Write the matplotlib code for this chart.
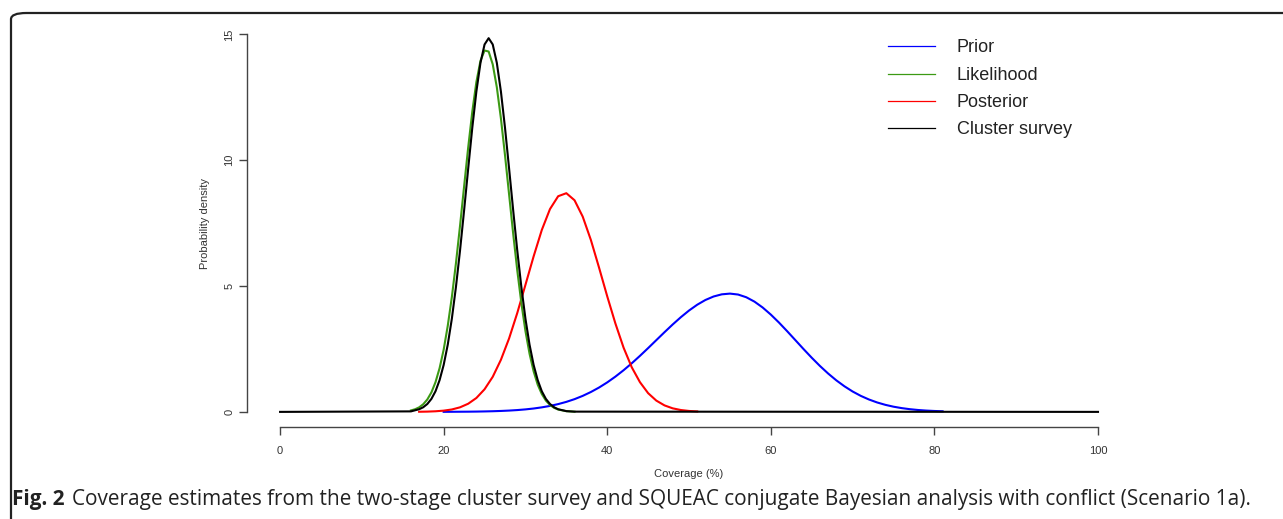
import matplotlib.pyplot as plt
from matplotlib.patches import FancyBboxPatch

# coverage (%) and probability density
prior_x = [20, 21, 22, 23, 24, 25, 26, 27, 28, 29, 30, 31, 32, 33, 34, 35, 36, 37, 38, 39,
           40, 41, 42, 43, 44, 45, 46, 47, 48, 49, 50, 51, 52, 53, 54, 55, 56, 57, 58, 59,
           60, 61, 62, 63, 64, 65, 66, 67, 68, 69, 70, 71, 72, 73, 74, 75, 76, 77, 78, 79,
           80, 81]
prior_y = [0.002, 0.004, 0.006, 0.008, 0.012, 0.018, 0.026, 0.037, 0.052, 0.072, 0.099,
           0.134, 0.180, 0.237, 0.309, 0.398, 0.506, 0.636, 0.790, 0.968, 1.172, 1.402,
           1.656, 1.932, 2.227, 2.535, 2.851, 3.166, 3.473, 3.763, 4.028, 4.258, 4.446,
           4.585, 4.671, 4.700, 4.663, 4.555, 4.381, 4.148, 3.866, 3.548, 3.205, 2.851,
           2.496, 2.152, 1.826, 1.526, 1.255, 1.017, 0.810, 0.636, 0.492, 0.374, 0.280,
           0.206, 0.150, 0.107, 0.075, 0.052, 0.036, 0.024]

lik_x = [16, 16.5, 17, 17.5, 18, 18.5, 19, 19.5, 20, 20.5, 21, 21.5, 22, 22.5, 23, 23.5,
         24, 24.5, 25, 25.5, 26, 26.5, 27, 27.5, 28, 28.5, 29, 29.5, 30, 30.5, 31, 31.5,
         32, 32.5, 33, 33.5, 34, 35, 36]
lik_y = [0.058, 0.104, 0.180, 0.303, 0.492, 0.773, 1.178, 1.734, 2.47, 3.42, 4.56, 5.90,
         7.39, 8.96, 10.51, 11.93, 13.11, 13.95, 14.36, 14.32, 13.81, 12.90, 11.66, 10.20,
         8.64, 7.08, 5.62, 4.32, 3.21, 2.31, 1.61, 1.08, 0.709, 0.448, 0.274, 0.162, 0.093,
         0.028, 0.007]

post_x = [17, 18, 19, 20, 21, 22, 23, 24, 25, 26, 27, 28, 29, 30, 31, 32, 33, 34, 35, 36,
          37, 38, 39, 40, 41, 42, 43, 44, 45, 46, 47, 48, 49, 50, 51]
post_y = [0.005, 0.011, 0.024, 0.049, 0.096, 0.181, 0.324, 0.552, 0.899, 1.394, 2.07,
          2.92, 3.93, 5.05, 6.18, 7.23, 8.06, 8.57, 8.69, 8.41, 7.76, 6.83, 5.73, 4.59,
          3.51, 2.55, 1.77, 1.18, 0.743, 0.448, 0.258, 0.141, 0.074, 0.037, 0.018]

survey_x = [0, 16, 17, 17.5, 18, 18.5, 19, 19.5, 20, 20.5, 21, 21.5, 22, 22.5, 23, 23.5,
            24, 24.5, 25, 25.5, 26, 26.5, 27, 27.5, 28, 28.5, 29, 29.5, 30, 30.5, 31, 31.5,
            32, 32.5, 33, 33.5, 34, 35, 36, 100]
survey_y = [0, 0.02, 0.105, 0.184, 0.313, 0.515, 0.818, 1.26, 1.865, 2.67, 3.70, 4.96,
            6.41, 8.01, 9.67, 11.29, 12.73, 13.87, 14.60, 14.85, 14.60, 13.87, 12.73, 11.29,
            9.67, 8.01, 6.41, 4.96, 3.70, 2.67, 1.865, 1.26, 0.818, 0.515, 0.313, 0.184,
            0.105, 0.03, 0.01, 0]

labels = ['Prior', 'Likelihood', 'Posterior', 'Cluster survey']
colors = ['#0000ff', '#3c9a14', '#ff0000', '#000000']

W, H = 1283, 519
fig = plt.figure(figsize=(W / 100, H / 100), dpi=100)
ax = fig.add_axes([0.1928, 0.1773, 0.8813 - 0.1928, 0.9628 - 0.1773])

ax.plot(prior_x, prior_y, color=colors[0], lw=1.5, zorder=2)
ax.plot(post_x, post_y, color=colors[2], lw=1.5, zorder=3)
ax.plot(lik_x, lik_y, color=colors[1], lw=1.5, zorder=4)
ax.plot(survey_x, survey_y, color=colors[3], lw=1.5, zorder=5)

ax.set_xlim(-4, 104)
ax.set_ylim(-0.6, 15.6)
for s in ['top', 'right']:
    ax.spines[s].set_visible(False)
ax.spines['left'].set_bounds(0, 15)
ax.spines['bottom'].set_bounds(0, 100)
for s in ['left', 'bottom']:
    ax.spines[s].set_color('#444444')
    ax.spines[s].set_linewidth(1)

ax.set_xticks([0, 20, 40, 60, 80, 100])
ax.set_yticks([0, 5, 10, 15])
ax.tick_params(direction='out', length=6, width=1, color='#444444',
               labelsize=8, labelcolor='#333333')
ax.tick_params(axis='x', pad=8)
ax.tick_params(axis='y', pad=3.5)
for lab in ax.get_yticklabels():
    lab.set_rotation(90)
    lab.set_va('center')
for lab in ax.get_xticklabels() + ax.get_yticklabels():
    lab.set_family('Liberation Sans')

ax.set_xlabel('Coverage (%)', fontsize=8, color='#333333', family='Liberation Sans', labelpad=9)
ax.set_ylabel('Probability density', fontsize=8, color='#333333', family='Liberation Sans', labelpad=10)

# legend drawn by hand, like R's legend without a box
ly = [46, 74, 101, 128]
for lab, c, yy in zip(labels, colors, ly):
    yf = 1 - yy / H
    fig.add_artist(plt.Line2D([888 / W, 935 / W], [yf, yf], color=c, lw=0.9))
    fig.text(957 / W, 1 - (yy + 1.5) / H, lab, fontsize=13, color='#222222', va='center',
             family='Liberation Sans')

# frame with rounded corner
frame = FancyBboxPatch((11 / W, -0.2), 1.2, 1 - 13 / H + 0.2,
                       boxstyle='round,pad=0,rounding_size=0.012',
                       transform=fig.transFigure, fill=False, ec='#222222', lw=1.6)
fig.add_artist(frame)

# caption: bold "Fig. 2" then the plain text right after it
cy = 1 - 500 / H
t1 = fig.text(12 / W, cy, 'Fig. 2', fontsize=14.95, fontweight='bold',
              family='Open Sans', va='center', color='#222222')
fig.canvas.draw()
bb = t1.get_window_extent()
fig.text((bb.x1 + 8) / W, cy,
         'Coverage estimates from the two-stage cluster survey and SQUEAC conjugate Bayesian '
         'analysis with conflict (Scenario 1a).',
         fontsize=14.95, family='Open Sans', va='center', color='#222222')

fig.savefig('out.png', dpi=100)
